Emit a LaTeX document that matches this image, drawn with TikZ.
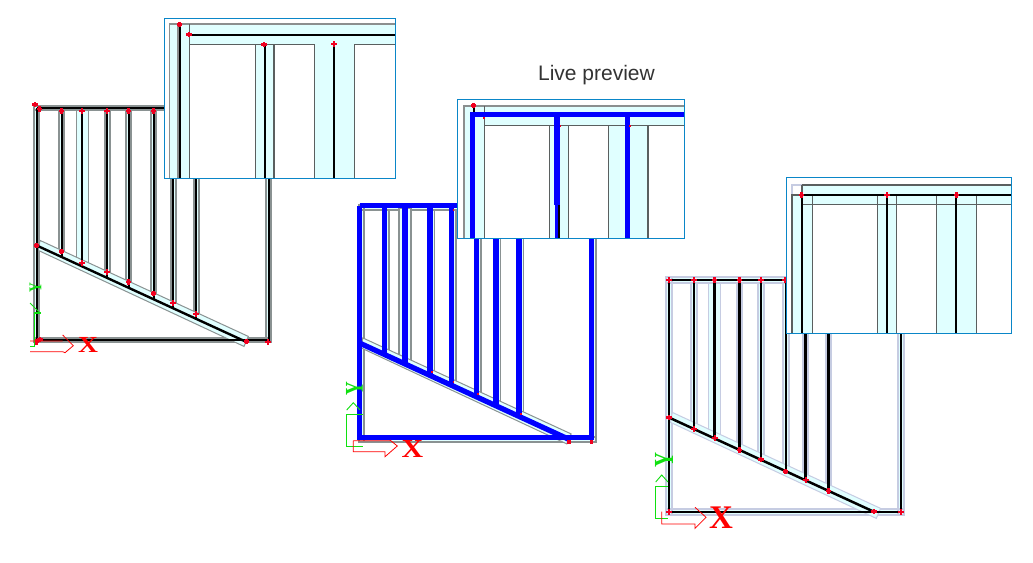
\documentclass[tikz,border=0pt]{standalone}
\usepackage{fontspec}
\setmainfont{Liberation Sans}
\newfontfamily\axisfont{Liberation Serif}
\definecolor{pale}{HTML}{E0FFFF}
\definecolor{frameblue}{HTML}{0A86C8}
\definecolor{wallgray}{HTML}{5A5F5F}
\definecolor{studgray}{HTML}{8A9292}
\definecolor{lavend}{HTML}{C6CCE2}
\definecolor{corered}{HTML}{F00020}
\definecolor{axisgreen}{HTML}{10E010}
\tikzset{
  x=1pt,y=-1pt,
  mark dot/.style={fill=corered,draw=none},
  inset frame/.style={draw=frameblue,line width=1pt,fill=white},
  inset line/.style={draw=wallgray,line width=1.2pt},
  inset fill/.style={fill=pale,draw=none},
  axis red/.style={draw=red,line width=.8pt},
  axis green/.style={draw=axisgreen,line width=.9pt},
}
% red plus mark
\newcommand{\rmark}[2]{\fill[mark dot] (#1-2.6,#2-1.3) rectangle (#1+2.6,#2+1.3);\fill[mark dot] (#1-1.3,#2-2.6) rectangle (#1+1.3,#2+2.6);}
\newcommand{\tmark}[2]{\fill[mark dot] (#1-.8,#2-.8) rectangle (#1+.8,#2+.8);}
% #1 x0, #2 y0, #3 outline colour, #4 outline width, #5 half width, #6 core colour, #7 core width, #8 diagonal end x, #9 outline offset
\newcommand{\framing}[9]{%
\begin{scope}[shift={(#1,#2)}]
  \tikzset{wallout/.style={draw=#3,line width=#4pt},bandout/.style={draw=#3,line width=1pt},corestyle/.style={draw=#6,line width=#7pt}}
  \begin{scope}[shift={(#9,#9)}]
  \fill[pale] (-#5,-#5) rectangle (232+#5,#5);
  \fill[pale] (-#5,-#5) rectangle (#5,232+#5);
  \fill[pale] (232-#5,-#5) rectangle (232+#5,232+#5);
  \fill[pale] (-#5,232-#5) rectangle (232+#5,232+#5);
  \draw[wallout] (-#5,-#5) rectangle (232+#5,#5);
  \draw[wallout] (-#5,-#5) rectangle (#5,232+#5);
  \draw[wallout] (232-#5,-#5) rectangle (232+#5,232+#5);
  \draw[wallout] (-#5,232-#5) rectangle (232+#5,232+#5);
  \foreach \s in {25,70.5,92,117,136.5,159.5}{
    \filldraw[wallout,fill=pale] (\s-#5,#5) rectangle (\s+#5,{135+.46*\s});
  }
  \end{scope}
  \filldraw[wallout,line width=1.2pt,fill=pale] (39.5,#5) rectangle (51.5,{137.5+.46*45.5});
  \filldraw[bandout,fill=pale,line join=miter] (3.3,132.4) -- (211.6,228.4) -- (207.3,238.4) -- (1.6,142.4) -- cycle;
  \draw[corestyle] (0,0) -- (232,0);
  \draw[corestyle] (0,0) -- (0,232) -- (232,232) -- (232,0);
  \foreach \s in {25,45.5,70.5,92,117,136.5,159.5}{
    \draw[corestyle] (\s,0) -- (\s,{137.5+.46*\s});
  }
  \draw[corestyle] (0,137.5) -- (#8,{137.5+.46*#8});
\end{scope}}
\begin{document}
\begin{tikzpicture}
\useasboundingbox (0,0) rectangle (1033,562);
\fill[white] (0,0) rectangle (1033,562);

% ---------- panel 1
\framing{36.7}{108}{studgray}{2}{2.3}{black}{2.4}{210}{0}
\foreach \px/\py in {61.7/111,82/111,107/111,128.7/111,153.7/111,61.7/251.7,82/263,107/272,128.7/282,153.7/293.7,173/303,196/314,36.7/245.7,246.7/341.7,268/342,40/339.3,36.7/342,35/104.3,39.3/109}{\rmark{\px}{\py}}
% axes 1
\draw[axis green,line width=1.2pt] (30,346.7) -- (34.5,346.7) -- (34.5,313) -- (41,313);
\draw[axis green] (30,303) -- (40,313);
\draw[axis red] (30,341) -- (62.7,341) (62.7,335) -- (73.3,345.7) -- (65,352.7) -- (62.7,351.7) -- (30,351.7);
\node[text=axisgreen,inner sep=0pt,rotate=90,font=\axisfont\bfseries\fontsize{15}{15}\selectfont] (yone) at (35.5,288) {\scalebox{.9}[1.2]{Y}};
\node[text=red,inner sep=0pt,xscale=1.2,font=\axisfont\bfseries\fontsize{23}{23}\selectfont] (xone) at (88,345) {X};

% inset 1
\filldraw[inset frame] (164.5,18.5) rectangle (395.5,178.5);
\fill[pale] (170,24) rectangle (189.3,178);
\fill[pale] (189.3,24) rectangle (395,44.3);
\fill[pale] (255.7,44.3) rectangle (274,178);
\fill[pale] (314.7,44.3) rectangle (354.7,178);
\draw[inset line,draw=wallgray!70] (169.7,178) -- (169.7,24) -- (395,24);
\draw[inset line,draw=wallgray!70] (178,24) -- (178,178);
\draw[inset line] (189.3,24) -- (189.3,178);
\draw[inset line] (189.3,44.3) -- (255.7,44.3) (274,44.3) -- (314.7,44.3) (354.7,44.3) -- (395,44.3) (255.7,44.3) -- (314.7,44.3);
\foreach \lx in {255.7,274,314.7,354.7}{\draw[inset line] (\lx,44.3) -- (\lx,178);}
\draw[black,line width=2.3pt] (179.7,24) -- (179.7,178);
\draw[black,line width=2.3pt] (189.3,34.7) -- (395,34.7);
\draw[black,line width=2.3pt] (265,44.3) -- (265,178);
\draw[black,line width=2.3pt] (334.3,44.3) -- (334.3,178);
\foreach \px/\py in {179.7/24.5,189/34.7,264/44.5,334/44}{\rmark{\px}{\py}}

% ---------- panel 2
\framing{359.5}{205.5}{studgray}{1.4}{2.4}{blue}{5.3}{210}{2}
\foreach \px/\py in {431.7/371.7,453.5/382,478/393.7,520.7/413.7,453.3/210,569.3/442.3,591.7/442.3}{\tmark{\px}{\py}}
\fill[mark dot] (569.3-2,442.3-2) rectangle (569.3+2,442.3+2);
\fill[mark dot] (591.7-1.5,442.3-2) rectangle (591.7+1.5,442.3+2);
% axes 2
\draw[axis green] (362.7,414) -- (346.7,414) -- (346.7,446) -- (362.7,446);
\draw[axis green] (346.7,410) -- (353.3,402.7) -- (360,410);
\draw[axis red] (353.3,440.7) -- (353.3,451.7) -- (385,451.7) -- (385,456.7) -- (397.3,446) -- (390,440) (353.3,440.7) -- (390,440.7);
\node[text=axisgreen,inner sep=0pt,rotate=90,font=\axisfont\bfseries\fontsize{19}{19}\selectfont] (ytwo) at (354.5,388.5) {\scalebox{1}[1.35]{Y}};
\node[text=red,inner sep=0pt,xscale=1.15,font=\axisfont\bfseries\fontsize{26}{26}\selectfont] (xtwo) at (412.5,448.5) {X};

% inset 2
\filldraw[inset frame] (457.5,99.5) rectangle (684.5,238.5);
\fill[pale] (464,106) rectangle (484.3,238);
\fill[pale] (484.3,106) rectangle (684,125.7);
\fill[pale] (549.3,125.7) rectangle (568.7,238);
\fill[pale] (608.7,125.7) rectangle (648,238);
\draw[inset line,draw=wallgray!70] (464,238) -- (464,106) -- (684,106);
\draw[inset line] (484.3,106) -- (484.3,238);
\draw[inset line] (484.3,125.7) -- (684,125.7);
\foreach \lx in {549.3,568.7,608.7,648}{\draw[inset line] (\lx,125.7) -- (\lx,238);}
\draw[black,line width=2.2pt] (473.7,106) -- (473.7,115);
\draw[black,line width=5pt] (557,205) -- (557,238);
\draw[blue,line width=5.2pt] (472.7,238) -- (472.7,114.7) -- (684,114.7);
\draw[blue,line width=5.2pt] (557,114.7) -- (557,205);
\draw[blue,line width=3pt] (556,205) -- (556,238);
\draw[blue,line width=5.2pt] (627.3,114.7) -- (627.3,238);
\rmark{473.7}{105.3}
\foreach \px/\py in {484/117.7,560.3/126,630/126}{\tmark{\px}{\py}}

% ---------- panel 3
\framing{669}{280}{lavend}{2}{2.9}{black}{2.5}{205}{0}
\foreach \px/\py in {669/280,694/280,714.5/280,739.5/280,761/280,785/280,669/417.3,694/429,715/438,739.5/450,761/459.7,785.7/471.7,806/480,828.7/491,874/511.7,901/512,669/512}{\rmark{\px}{\py}}
% axes 3
\draw[axis green] (667.7,486) -- (655.7,486) -- (655.7,518) -- (667.7,518);
\draw[axis green] (655.7,482) -- (661.7,475) -- (668,482);
\draw[axis red] (661.7,511.7) -- (661.7,524) -- (695,524) -- (695,528.3) -- (706,517.3) -- (695,507.3);
\node[text=axisgreen,inner sep=0pt,rotate=90,font=\axisfont\bfseries\fontsize{23}{23}\selectfont] (ythree) at (664,460.5) {\scalebox{.9}[1.2]{Y}};
\node[text=red,inner sep=0pt,font=\axisfont\bfseries\fontsize{33}{33}\selectfont] (xthree) at (721,518) {X};

% inset 3
\filldraw[inset frame] (786.5,177.5) rectangle (1011.5,333.5);
\fill[pale] (802,185) rectangle (1011,204.3);
\fill[pale] (792,195) rectangle (812.7,333);
\fill[pale] (877.3,204.3) rectangle (896.7,333);
\fill[pale] (936.7,204.3) rectangle (976.3,333);
\draw[lavend,line width=1.2pt] (792,195) -- (792,185) -- (802,185);
\draw[inset line] (802,185) -- (1011,185);
\draw[inset line] (802,185) -- (802,195);
\draw[inset line] (812.7,195) -- (812.7,333);
\draw[inset line] (792,333) -- (792,195) -- (812.7,195);
\draw[inset line] (802,204.3) -- (1011,204.3);
\foreach \lx in {877.3,896.7,936.7,976.3}{\draw[inset line] (\lx,195) -- (\lx,333);}
\draw[black,line width=2.2pt] (801.7,195) -- (1011,195);
\draw[black,line width=2.2pt] (801.7,195) -- (801.7,333);
\draw[black,line width=2.2pt] (887,195) -- (887,333);
\draw[black,line width=2.2pt] (956.3,195) -- (956.3,333);
\foreach \px/\py in {801.7/195,887/195,956.3/195}{\rmark{\px}{\py}}

\node[text=black!80,inner sep=0pt,font=\fontsize{21}{21}\selectfont] (live) at (596.5,75) {Live preview};
\end{tikzpicture}
\end{document}
